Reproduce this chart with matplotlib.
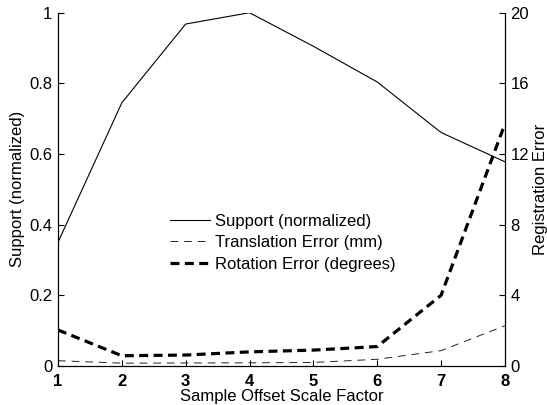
import matplotlib
matplotlib.use("Agg")
import matplotlib.pyplot as plt

plt.rcParams['font.family'] = ['Liberation Sans', 'DejaVu Sans']

scale_factor = [1, 2, 3, 4, 5, 6, 7, 8]
support = [0.35, 0.745, 0.968, 1.0, 0.905, 0.804, 0.661, 0.578]
translation_err = [0.30, 0.16, 0.17, 0.18, 0.20, 0.38, 0.87, 2.28]
rotation_err = [2.04, 0.58, 0.62, 0.80, 0.90, 1.10, 4.0, 13.7]

x_ticks = [1, 2, 3, 4, 5, 6, 7, 8]
left_ticks = [0, 0.2, 0.4, 0.6, 0.8, 1]
left_ticklabels = ['0', '0.2', '0.4', '0.6', '0.8', '1']
right_ticks = [0, 4, 8, 12, 16, 20]

fig = plt.figure(figsize=(5.47, 4.05), dpi=100)
ax = fig.add_axes([0.106, 0.0963, 0.817, 0.8723])
ax2 = ax.twinx()

h1, = ax.plot(scale_factor, support, color='black', lw=0.8,
              label='Support (normalized)')
h2, = ax2.plot(scale_factor, translation_err, color='#222222', lw=0.7,
               dashes=(8, 6), label='Translation Error (mm)')
h3, = ax2.plot(scale_factor, rotation_err, color='black', lw=2.3,
               dashes=(2.8, 1.7), label='Rotation Error (degrees)')

ax.set_xlim(1, 8)
ax.set_ylim(0, 1)
ax2.set_ylim(0, 20)

ax.set_xticks(x_ticks)
ax.set_xticklabels([str(v) for v in x_ticks], fontweight='bold')
ax.set_yticks(left_ticks)
ax.set_yticklabels(left_ticklabels)
ax2.set_yticks(right_ticks)

for a in (ax, ax2):
    a.spines['top'].set_visible(False)
    for s in a.spines.values():
        s.set_linewidth(0.8)
    a.tick_params(direction='in', length=4, width=0.8, labelsize=12, pad=4)
ax.tick_params(axis='x', pad=6)

ax.set_xlabel('Sample Offset Scale Factor', fontsize=12, labelpad=0)
ax.set_ylabel('Support (normalized)', fontsize=12, labelpad=3)
ax2.set_ylabel('Registration Error', fontsize=12, labelpad=3)

ax.legend(handles=[h1, h2, h3], loc='center', bbox_to_anchor=(0.502, 0.349),
          frameon=False, fontsize=12, handlelength=2.4, handletextpad=0.3,
          labelspacing=0.38)

fig.savefig('out.png', dpi=100)
